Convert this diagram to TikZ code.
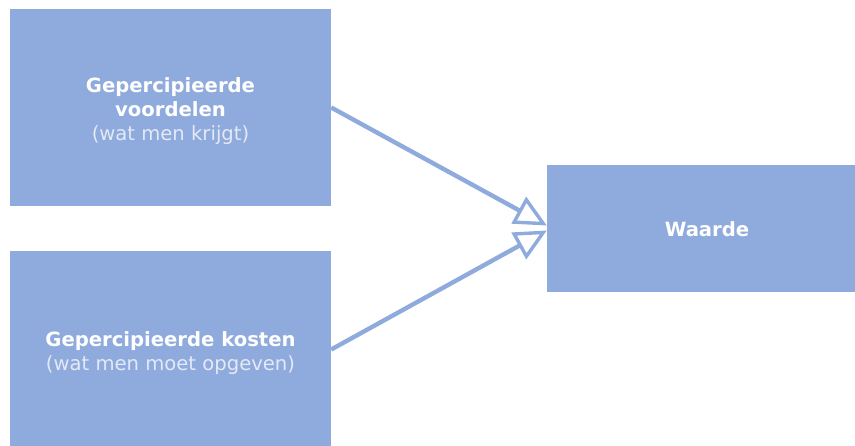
\documentclass[tikz,border=0pt]{standalone}
\usepackage{fontspec}
\setmainfont{DejaVu Sans}
\usetikzlibrary{arrows.meta}
\definecolor{boxblue}{HTML}{8FAADC}
\definecolor{subtext}{HTML}{E3E9F5}
\tikzset{
  block/.style={fill=boxblue, draw=none, inner sep=0pt},
  caption/.style={inner sep=0pt, align=center, text=white,
    font=\fontsize{19.6}{24}\selectfont},
  flow/.style={draw=boxblue, line width=4.4pt,
    -{Triangle[open, length=32pt, width=30pt, line width=3.4pt]}},
}
\begin{document}
\begin{tikzpicture}[x=1pt, y=-1pt]
  \useasboundingbox (0,0) rectangle (855,445);
  \clip (0,0) rectangle (855,445);
  % left column: benefits and costs
  \node[block, minimum width=321pt, minimum height=197pt] (gain) at (170.5,107.5) {};
  \node[block, minimum width=321pt, minimum height=197pt] (cost) at (170.5,349.5) {};
  % result on the right
  \node[block, minimum width=320pt, minimum height=127pt] (value) at (707,228.5) {};
  % captions
  \node[caption] (gaintxt) at ([yshift=-4pt]gain.center)
    {\textbf{Gepercipieerde}\\\textbf{voordelen}\\\textcolor{subtext}{(wat men krijgt)}};
  \node[caption] (costtxt) at ([yshift=-4pt]cost.center)
    {\textbf{Gepercipieerde kosten}\\\textcolor{subtext}{(wat men moet opgeven)}};
  \node[caption] (valuetxt) at ([yshift=-1pt]value.center) {\textbf{Waarde}};
  % connectors
  \draw[flow] (gain.east) -- ([yshift=3pt]value.west);
  \draw[flow] (cost.east) -- ([yshift=-2pt]value.west);
\end{tikzpicture}
\end{document}
